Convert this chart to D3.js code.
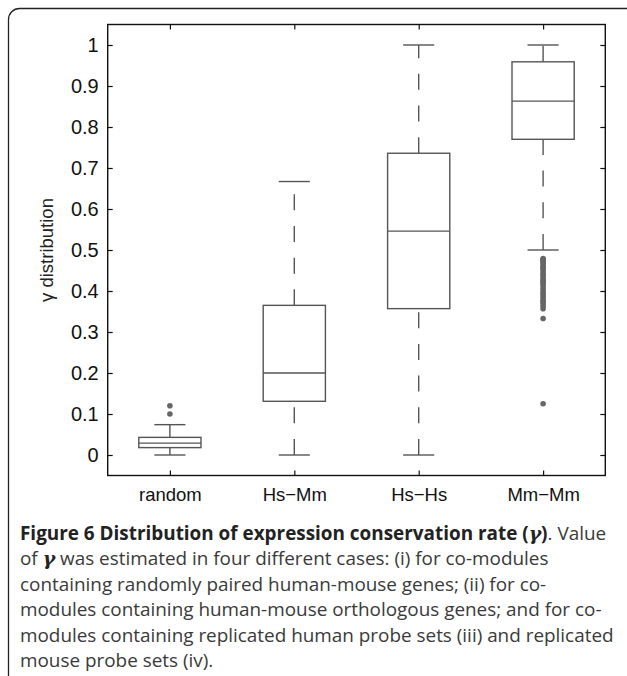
<!DOCTYPE html>
<html>
<head>
<meta charset="utf-8">
<script src="https://cdn.jsdelivr.net/npm/d3@7"></script>
<style>
  body { margin: 0; background: #fff; }
  svg { display: block; }
</style>
</head>
<body>
<div id="chart"></div>
<script>
// Box statistics, one entry per category.
var categories = ["random", "Hs\u2212Mm", "Hs\u2212Hs", "Mm\u2212Mm"];
var whiskerLow = [0, 0, 0, 0.5];
var quartile1 = [0.018, 0.131, 0.357, 0.77];
var medians = [0.029, 0.2, 0.546, 0.863];
var quartile3 = [0.043, 0.365, 0.736, 0.959];
var whiskerHigh = [0.074, 0.667, 1, 1];
var outliers = [
    [0.1, 0.12],
    [],
    [],
    [0.479, 0.476, 0.474, 0.471, 0.467, 0.462, 0.458, 0.455, 0.45, 0.444,
     0.44, 0.435, 0.429, 0.425, 0.421, 0.417, 0.412, 0.406, 0.4, 0.395,
     0.391, 0.385, 0.378, 0.375, 0.37, 0.364, 0.357, 0.333, 0.125]
];
var yTicks = [0, 0.1, 0.2, 0.3, 0.4, 0.5, 0.6, 0.7, 0.8, 0.9, 1];

var width = 627, height = 676;
var plot = { left: 107.7, right: 605.3, top: 24.5, bottom: 475.5 };
var boxColor = "#555";

var svg = d3.select("#chart").append("svg")
    .attr("width", width)
    .attr("height", height);

// Rounded figure frame, its right and bottom edges run off the page.
svg.append("rect")
    .attr("x", 8.5).attr("y", 8.5)
    .attr("width", 660).attr("height", 720)
    .attr("rx", 11).attr("ry", 11)
    .attr("fill", "none")
    .attr("stroke", "#222")
    .attr("stroke-width", 1.3);

var x = d3.scaleLinear().domain([0.5, 4.5]).range([plot.left, plot.right]);
var y = d3.scaleLinear().domain([-0.05, 1.05]).range([plot.bottom, plot.top]);
var boxW = (x(2) - x(1)) * 0.5;

var rows = categories.map(function(c, i) {
    return {
        name: c, pos: i + 1,
        lo: whiskerLow[i], q1: quartile1[i], med: medians[i],
        q3: quartile3[i], hi: whiskerHigh[i], out: outliers[i]
    };
});

/*----------  axes, matlab style ticks on all four sides  ----------*/
var tickFont = "'Liberation Sans', Arial, sans-serif";

var yAxis = svg.append("g")
    .attr("transform", "translate(" + plot.left + ",0)")
    .call(d3.axisLeft(y).tickValues(yTicks).tickSize(-5).tickPadding(9)
        .tickFormat(function(d) { return d === 0 || d === 1 ? d : d3.format(".1f")(d); }))
    .call(function(g) { g.select(".domain").remove(); });

svg.append("g")
    .attr("transform", "translate(" + plot.right + ",0)")
    .call(d3.axisRight(y).tickValues(yTicks).tickSize(-5).tickFormat(""))
    .call(function(g) { g.select(".domain").remove(); });

svg.append("g")
    .attr("transform", "translate(0," + plot.bottom + ")")
    .call(d3.axisBottom(x).tickValues([1, 2, 3, 4]).tickSize(-5).tickPadding(12)
        .tickFormat(function(d) { return categories[d - 1]; }))
    .call(function(g) { g.select(".domain").remove(); });

svg.append("g")
    .attr("transform", "translate(0," + plot.top + ")")
    .call(d3.axisTop(x).tickValues([1, 2, 3, 4]).tickSize(-5).tickFormat(""))
    .call(function(g) { g.select(".domain").remove(); });

svg.selectAll(".tick line").attr("stroke", "#111").attr("stroke-width", 1.2);
svg.selectAll(".tick text")
    .attr("fill", "#111")
    .style("font-family", tickFont)
    .style("font-size", "18.5px");
yAxis.selectAll(".tick text").style("font-size", "20px");

svg.append("rect")
    .attr("x", plot.left).attr("y", plot.top)
    .attr("width", plot.right - plot.left)
    .attr("height", plot.bottom - plot.top)
    .attr("fill", "none")
    .attr("stroke", "#111")
    .attr("stroke-width", 1.4);

svg.append("text")
    .attr("transform", "translate(53," + y(0.5) + ") rotate(-90)")
    .attr("text-anchor", "middle")
    .attr("fill", "#222")
    .style("font-family", tickFont)
    .style("font-size", "18.5px")
    .text("\u03b3 distribution");

/*----------  boxes  ----------*/
var g = svg.selectAll("g.box")
    .data(rows)
    .enter().append("g")
    .attr("class", "box")
    .attr("transform", function(d) { return "translate(" + x(d.pos) + ",0)"; });

// whiskers are dashed and drawn bottom to top, like matlab does
g.append("line")
    .attr("y1", function(d) { return y(d.q3); })
    .attr("y2", function(d) { return y(d.hi); });
g.append("line")
    .attr("y1", function(d) { return y(d.lo); })
    .attr("y2", function(d) { return y(d.q1); });
g.selectAll("line")
    .attr("x1", 0).attr("x2", 0)
    .attr("stroke", boxColor)
    .attr("stroke-width", 1.4)
    .attr("stroke-dasharray", "16,15.7");

// caps
g.append("line")
    .attr("x1", -boxW / 4).attr("x2", boxW / 4)
    .attr("y1", function(d) { return y(d.hi); })
    .attr("y2", function(d) { return y(d.hi); })
    .attr("stroke", boxColor).attr("stroke-width", 1.4);
g.append("line")
    .attr("x1", -boxW / 4).attr("x2", boxW / 4)
    .attr("y1", function(d) { return y(d.lo); })
    .attr("y2", function(d) { return y(d.lo); })
    .attr("stroke", boxColor).attr("stroke-width", 1.4);

g.append("rect")
    .attr("x", -boxW / 2)
    .attr("width", boxW)
    .attr("y", function(d) { return y(d.q3); })
    .attr("height", function(d) { return y(d.q1) - y(d.q3); })
    .attr("fill", "#fff")
    .attr("stroke", boxColor)
    .attr("stroke-width", 1.4);

g.append("line")
    .attr("x1", -boxW / 2).attr("x2", boxW / 2)
    .attr("y1", function(d) { return y(d.med); })
    .attr("y2", function(d) { return y(d.med); })
    .attr("stroke", boxColor).attr("stroke-width", 1.4);

g.selectAll("circle")
    .data(function(d) { return d.out; })
    .enter().append("circle")
    .attr("cx", 0)
    .attr("cy", function(v) { return y(v); })
    .attr("r", 2.8)
    .attr("fill", "#666");

/*----------  caption  ----------*/
var capFont = "'Open Sans', 'Noto Sans', sans-serif";
var caption = [
    [["Figure 6 Distribution of expression conservation rate (", "b"], ["\u03b3", "bi"], [")", "b"], [". Value", ""]],
    [["of ", ""], ["\u03b3", "bi"], [" was estimated in four different cases: (i) for co-modules", ""]],
    [["containing randomly paired human-mouse genes; (ii) for co-", ""]],
    [["modules containing human-mouse orthologous genes; and for co-", ""]],
    [["modules containing replicated human probe sets (iii) and replicated", ""]],
    [["mouse probe sets (iv).", ""]]
];

var capText = svg.append("g")
    .style("font-family", capFont)
    .style("font-size", "18.9px");

caption.forEach(function(parts, i) {
    var t = capText.append("text")
        .attr("x", 20)
        .attr("y", 540 + i * 25.4)
        .attr("fill", "#3a3a3a");
    parts.forEach(function(p) {
        var s = t.append("tspan").text(p[0]);
        if (p[1].indexOf("b") >= 0) s.attr("font-weight", "bold").attr("fill", "#222");
        if (p[1].indexOf("i") >= 0) s.attr("font-style", "italic").style("font-family", "'DejaVu Serif', serif");
    });
});
</script>
</body>
</html>
